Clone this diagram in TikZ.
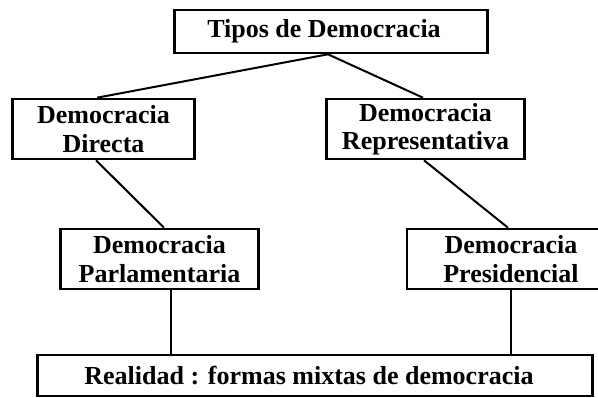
\documentclass[tikz,border=0pt]{standalone}
\usepackage{fontspec}
\setmainfont{Liberation Serif}
\begin{document}
\begin{tikzpicture}[x=1pt,y=-1pt,
  box/.style={draw,line width=2.6pt,rectangle,inner sep=0pt,align=center,
    font=\bfseries\fontsize{26}{28.5}\selectfont},
  link/.style={line width=2pt}]
\useasboundingbox (0,0) rectangle (598,397);
\clip (0,0) rectangle (598,397);
\node[box,minimum width=313pt,minimum height=43pt] (top) at (331,31.5) {Tipos de Democracia\hspace*{14pt}};
\node[box,minimum width=182pt,minimum height=60pt] (dd) at (103.5,129) {Democracia\\Directa};
\node[box,minimum width=198pt,minimum height=60pt] (dr) at (425.5,129) {Democracia\\Representativa};
\node[box,minimum width=198pt,minimum height=60pt] (pa) at (159.5,259) {Democracia\\Parlamentaria};
\node[box,minimum width=208pt,minimum height=60pt] (pr) at (511,259) {Democracia\\Presidencial};
\node[box,minimum width=555pt,minimum height=41pt] (re) at (315,375.5) {Realidad : formas mixtas de democracia\hspace*{12pt}};
\draw[link] ([xshift=-3pt]top.south) -- ([xshift=-6.5pt]dd.north);
\draw[link] ([xshift=-3pt]top.south) -- ([xshift=-2.5pt]dr.north);
\draw[link] ([xshift=-7.5pt]dd.south) -- ([xshift=4.5pt]pa.north);
\draw[link] ([xshift=-1.5pt]dr.south) -- ([xshift=-3pt]pr.north);
\draw[link] ([xshift=11.5pt]pa.south) -- ([xshift=11.5pt]pa.south |- re.north);
\draw[link] (pr.south) -- (pr.south |- re.north);
\end{tikzpicture}
\end{document}
